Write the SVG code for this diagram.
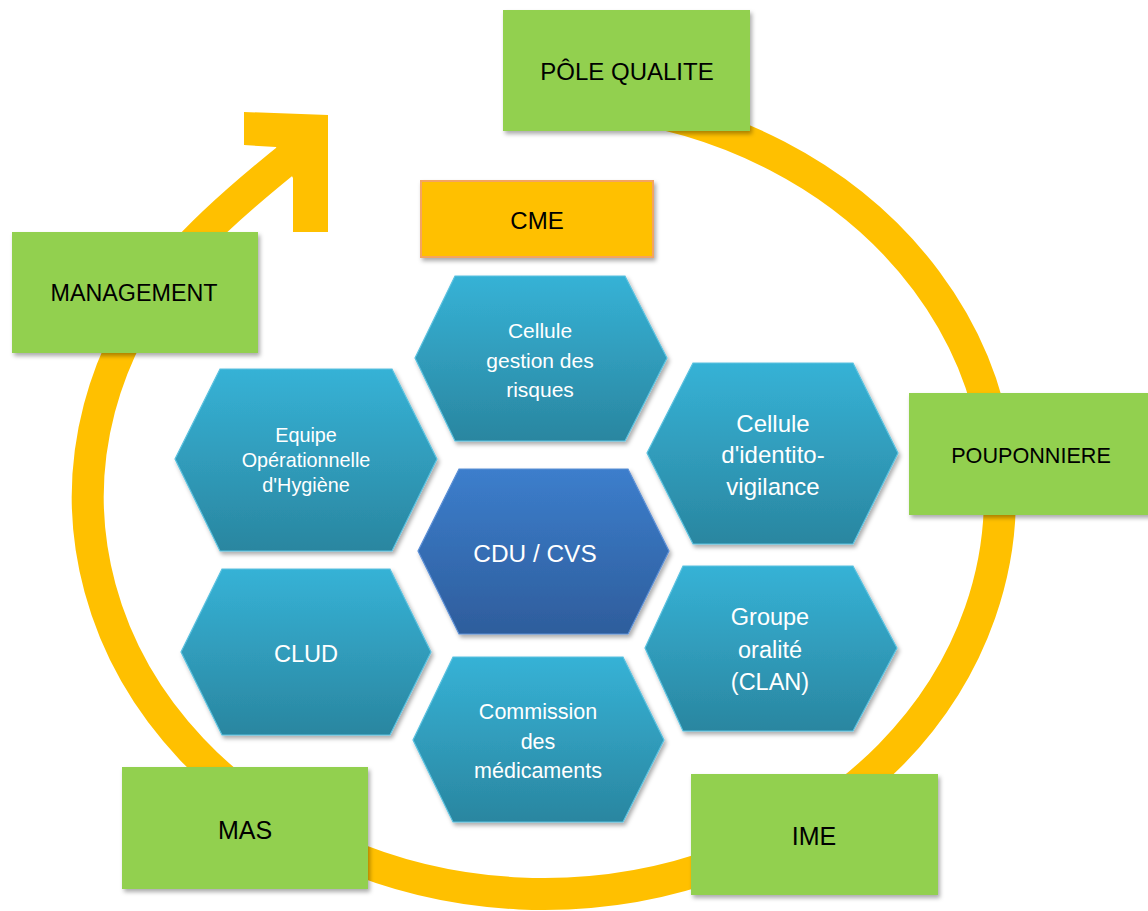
<svg xmlns="http://www.w3.org/2000/svg" width="1148" height="911" viewBox="0 0 1148 911">
<defs>
<linearGradient id="gTeal" x1="0" y1="0" x2="0" y2="1">
<stop offset="0" stop-color="#36B2D6"/>
<stop offset="1" stop-color="#2A86A0"/>
</linearGradient>
<linearGradient id="gBlue" x1="0" y1="0" x2="0" y2="1">
<stop offset="0" stop-color="#3C7ECC"/>
<stop offset="1" stop-color="#2E5D9C"/>
</linearGradient>
<filter id="sh" x="-10%" y="-10%" width="125%" height="130%">
<feDropShadow dx="2" dy="3" stdDeviation="2.2" flood-color="#000" flood-opacity="0.33"/>
</filter>
<style>
.box{fill:#92D050;filter:url(#sh)}
.cme{fill:#FFC000;stroke:#F4A460;stroke-width:2;filter:url(#sh)}
.hex{fill:url(#gTeal);stroke:#5BC2E0;stroke-width:1.2;filter:url(#sh)}
.hexc{fill:url(#gBlue);stroke:#5B8FD6;stroke-width:1.2;filter:url(#sh)}
.bt{font-family:"Liberation Sans",Arial,sans-serif;fill:#000;text-anchor:middle}
.ht{font-family:"Liberation Sans",Arial,sans-serif;fill:#fff;text-anchor:middle}
</style>
</defs>
<rect width="1148" height="911" fill="#fff"/>
<g id="connectors">
<path d="M 600 103 A 456 397 0 1 1 178 260 Q 214 218 294 154" fill="none" stroke="#FFC000" stroke-width="32"/>
<polygon points="244,112 328,115 328,232 293,232 293,178 276,147 244,145" fill="#FFC000"/>
</g>
<g id="pole-qualite"><rect class="box" x="503" y="10" width="247" height="121"/><text class="bt" x="627" y="80" style="font-size:24px">PÔLE QUALITE</text></g>
<g id="management"><rect class="box" x="12" y="232" width="246" height="121"/><text class="bt" x="134" y="301" style="font-size:23.3px">MANAGEMENT</text></g>
<g id="pouponniere"><rect class="box" x="909" y="393" width="245" height="122"/><text class="bt" x="1031" y="463" style="font-size:21.6px">POUPONNIERE</text></g>
<g id="mas"><rect class="box" x="122" y="767" width="246" height="122"/><text class="bt" x="245" y="839" style="font-size:25px">MAS</text></g>
<g id="ime"><rect class="box" x="691" y="774" width="247" height="121"/><text class="bt" x="814" y="845" style="font-size:25px">IME</text></g>
<g id="cme"><rect class="cme" x="421" y="181" width="232" height="76"/><text class="bt" x="537" y="229" style="font-size:24px">CME</text></g>
<g id="cellule-gestion-risques"><polygon class="hex" points="455,276 625,276 667,358 625,441 455,441 415,358"/>
<text class="ht" x="540" y="338" style="font-size:21px">Cellule</text><text class="ht" x="540" y="368" style="font-size:21px">gestion des</text><text class="ht" x="540" y="397" style="font-size:21px">risques</text></g>
<g id="equipe-hygiene"><polygon class="hex" points="220,369 392,369 437,459 392,551 220,551 175,459"/>
<text class="ht" x="306" y="442" style="font-size:19.8px">Equipe</text><text class="ht" x="306" y="467" style="font-size:19.8px">Opérationnelle</text><text class="ht" x="306" y="492" style="font-size:19.8px">d'Hygiène</text></g>
<g id="cellule-identito"><polygon class="hex" points="693,363 853,363 898,453 853,544 693,544 647,453"/>
<text class="ht" x="773" y="432" style="font-size:24px">Cellule</text><text class="ht" x="773" y="463" style="font-size:24px">d'identito-</text><text class="ht" x="773" y="495" style="font-size:24px">vigilance</text></g>
<g id="cdu-cvs"><polygon class="hexc" points="459,469 628,469 669,551 628,634 459,634 418,551"/>
<text class="ht" x="535" y="562" style="font-size:24.4px">CDU / CVS</text></g>
<g id="clud"><polygon class="hex" points="222,569 390,569 431,652 390,735 222,735 181,652"/>
<text class="ht" x="306" y="662" style="font-size:23.6px">CLUD</text></g>
<g id="groupe-oralite"><polygon class="hex" points="683,566 853,566 897,648 853,731 683,731 645,648"/>
<text class="ht" x="770" y="625" style="font-size:23.5px">Groupe</text><text class="ht" x="770" y="658" style="font-size:23.5px">oralité</text><text class="ht" x="770" y="690" style="font-size:23.5px">(CLAN)</text></g>
<g id="commission-medicaments"><polygon class="hex" points="453,657 623,657 664,740 623,822 453,822 413,740"/>
<text class="ht" x="538" y="719" style="font-size:21.5px">Commission</text><text class="ht" x="538" y="749" style="font-size:21.5px">des</text><text class="ht" x="538" y="778" style="font-size:21.5px">médicaments</text></g>
</svg>
